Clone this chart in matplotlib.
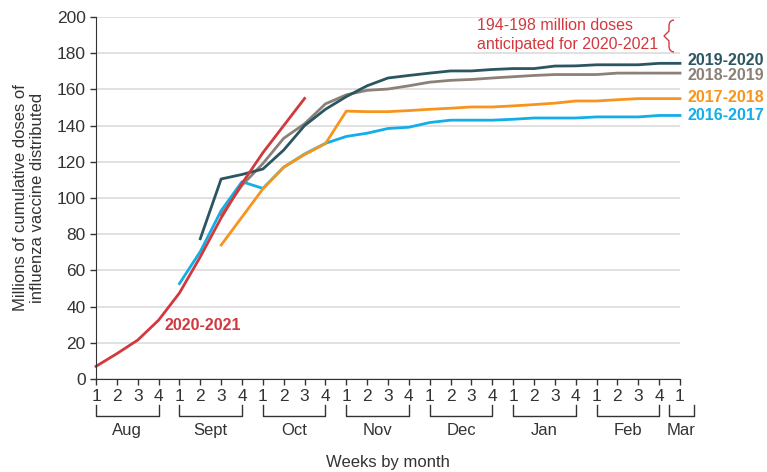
import numpy as np
import matplotlib.pyplot as plt
from matplotlib.path import Path
from matplotlib.patches import PathPatch
from matplotlib.transforms import blended_transform_factory

# ---------------------------------------------------------------------
# data: cumulative doses (millions), week index 0 = Aug week 1
# ---------------------------------------------------------------------
months = ["Aug", "Sept", "Oct", "Nov", "Dec", "Jan", "Feb", "Mar"]
week_labels = ["1", "2", "3", "4"] * 7 + ["1"]

red_2020 = [7, 14, 21.5, 32.5, 47.5, 67.5, 89, 108, 125, 140, 155]
red_start = 0

teal_2019 = [77.5, 110.5, 113, 116, 126.5, 140, 149, 156, 162, 166.3, 167.7, 169,
             170.2, 170.2, 171, 171.5, 171.5, 172.9, 173, 173.6, 173.6, 173.6,
             174.4, 174.4]
teal_start = 5

gray_2018 = [90.5, 107, 119, 133, 141, 152, 157, 159.5, 160.2, 162, 164, 165,
             165.5, 166.3, 167, 167.7, 168.2, 168.2, 168.2, 169, 169, 169, 169]
gray_start = 6

orange_2017 = [74, 89.5, 105, 117, 124, 130, 148, 147.7, 147.7, 148.3, 149, 149.6,
               150.3, 150.3, 150.9, 151.6, 152.4, 153.6, 153.6, 154.3, 154.9,
               154.9, 154.9]
orange_start = 6

blue_2016 = [52.7, 70.4, 93, 109, 105.3, 117, 124.3, 130.2, 134, 135.8, 138.4,
             139.1, 141.7, 143, 143, 143, 143.5, 144.2, 144.2, 144.2, 144.8,
             144.8, 144.8, 145.6, 145.6]
blue_start = 4

c_red = "#d2393f"
c_teal = "#2c5562"
c_gray = "#8b8178"
c_orange = "#f7941d"
c_blue = "#12aee8"
c_text = "#333333"

plt.rcParams['font.family'] = ['Liberation Sans', 'DejaVu Sans']

fig = plt.figure(figsize=(7.67, 4.72), dpi=100)
ax = fig.add_axes([96 / 767, 1 - 379 / 472, (680 - 96) / 767, (379 - 17) / 472])

series = [
    (blue_2016, blue_start, c_blue),
    (orange_2017, orange_start, c_orange),
    (gray_2018, gray_start, c_gray),
    (teal_2019, teal_start, c_teal),
    (red_2020, red_start, c_red),
]
for vals, start, col in series:
    x = np.arange(start, start + len(vals))
    ax.plot(x, vals, color=col, lw=2, clip_on=False)

ax.set_xlim(0, 28)
ax.set_ylim(0, 200)
ax.set_yticks(np.arange(0, 201, 20))
ax.set_xticks(np.arange(29))
ax.set_xticklabels(week_labels)
ax.grid(axis='y', color='#dcdcdc', lw=1.2)
ax.set_axisbelow(True)
for s in ['top', 'right']:
    ax.spines[s].set_visible(False)
ax.spines['left'].set_color(c_text)
ax.spines['bottom'].set_color(c_text)
ax.tick_params(axis='both', colors=c_text, labelsize=12.5, length=4, width=1)
ax.tick_params(axis='x', pad=3)

# month brackets under the week labels
trans = blended_transform_factory(ax.transData, ax.transAxes)
y_top, y_bar, y_txt = -0.072, -0.102, -0.122
for i, m in enumerate(months):
    if m == "Mar":
        x0, x1 = 27.45, 28.65
    else:
        x0, x1 = 4 * i, 4 * i + 3
    ax.plot([x0, x0, x1, x1], [y_top, y_bar, y_bar, y_top], color=c_text,
            lw=1, transform=trans, clip_on=False)
    ax.text((x0 + x1) / 2, y_txt, m, transform=trans, ha='center', va='top',
            fontsize=12, color=c_text)

fig.text(388 / 767, 1 - 462 / 472, "Weeks by month", ha='center', va='center',
         fontsize=12, color=c_text)
fig.text(29 / 767, 1 - 198 / 472,
         "Millions of cumulative doses of\ninfluenza vaccine distributed",
         rotation=90, ha='center', va='center', fontsize=12, color=c_text,
         linespacing=1.2)

# series labels
lab_kw = dict(fontsize=11.5, fontweight='bold', va='center', ha='left', clip_on=False)
ax.text(28.35, 175.9, "2019-2020", color=c_teal, **lab_kw)
ax.text(28.35, 167.6, "2018-2019", color=c_gray, **lab_kw)
ax.text(28.35, 155.8, "2017-2018", color=c_orange, **lab_kw)
ax.text(28.35, 145.7, "2016-2017", color=c_blue, **lab_kw)
ax.text(3.3, 29.3, "2020-2021", color=c_red, fontsize=11.5, fontweight='bold',
        va='center', ha='left')

# anticipated doses note with brace
ax.text(18.27, 190, "194-198 million doses\nanticipated for 2020-2021", color=c_red,
        fontsize=11.5, va='center', ha='left', linespacing=1.3, clip_on=False)


def px(xp, yp):
    return ((xp - 96) / 20.857, (379 - yp) / 1.81)


verts = [px(674, 20), px(669, 20.5), px(669, 26),
         px(669, 31), px(669, 31), px(664, 36),
         px(669, 41), px(669, 41), px(669, 46),
         px(669, 51.5), px(674, 52)]
codes = [Path.MOVETO, Path.CURVE3, Path.CURVE3,
         Path.LINETO, Path.CURVE3, Path.CURVE3,
         Path.CURVE3, Path.CURVE3, Path.LINETO,
         Path.CURVE3, Path.CURVE3]
ax.add_patch(PathPatch(Path(verts, codes), fill=False, edgecolor=c_red, lw=1,
                       clip_on=False))

fig.savefig("out.png", dpi=100)
